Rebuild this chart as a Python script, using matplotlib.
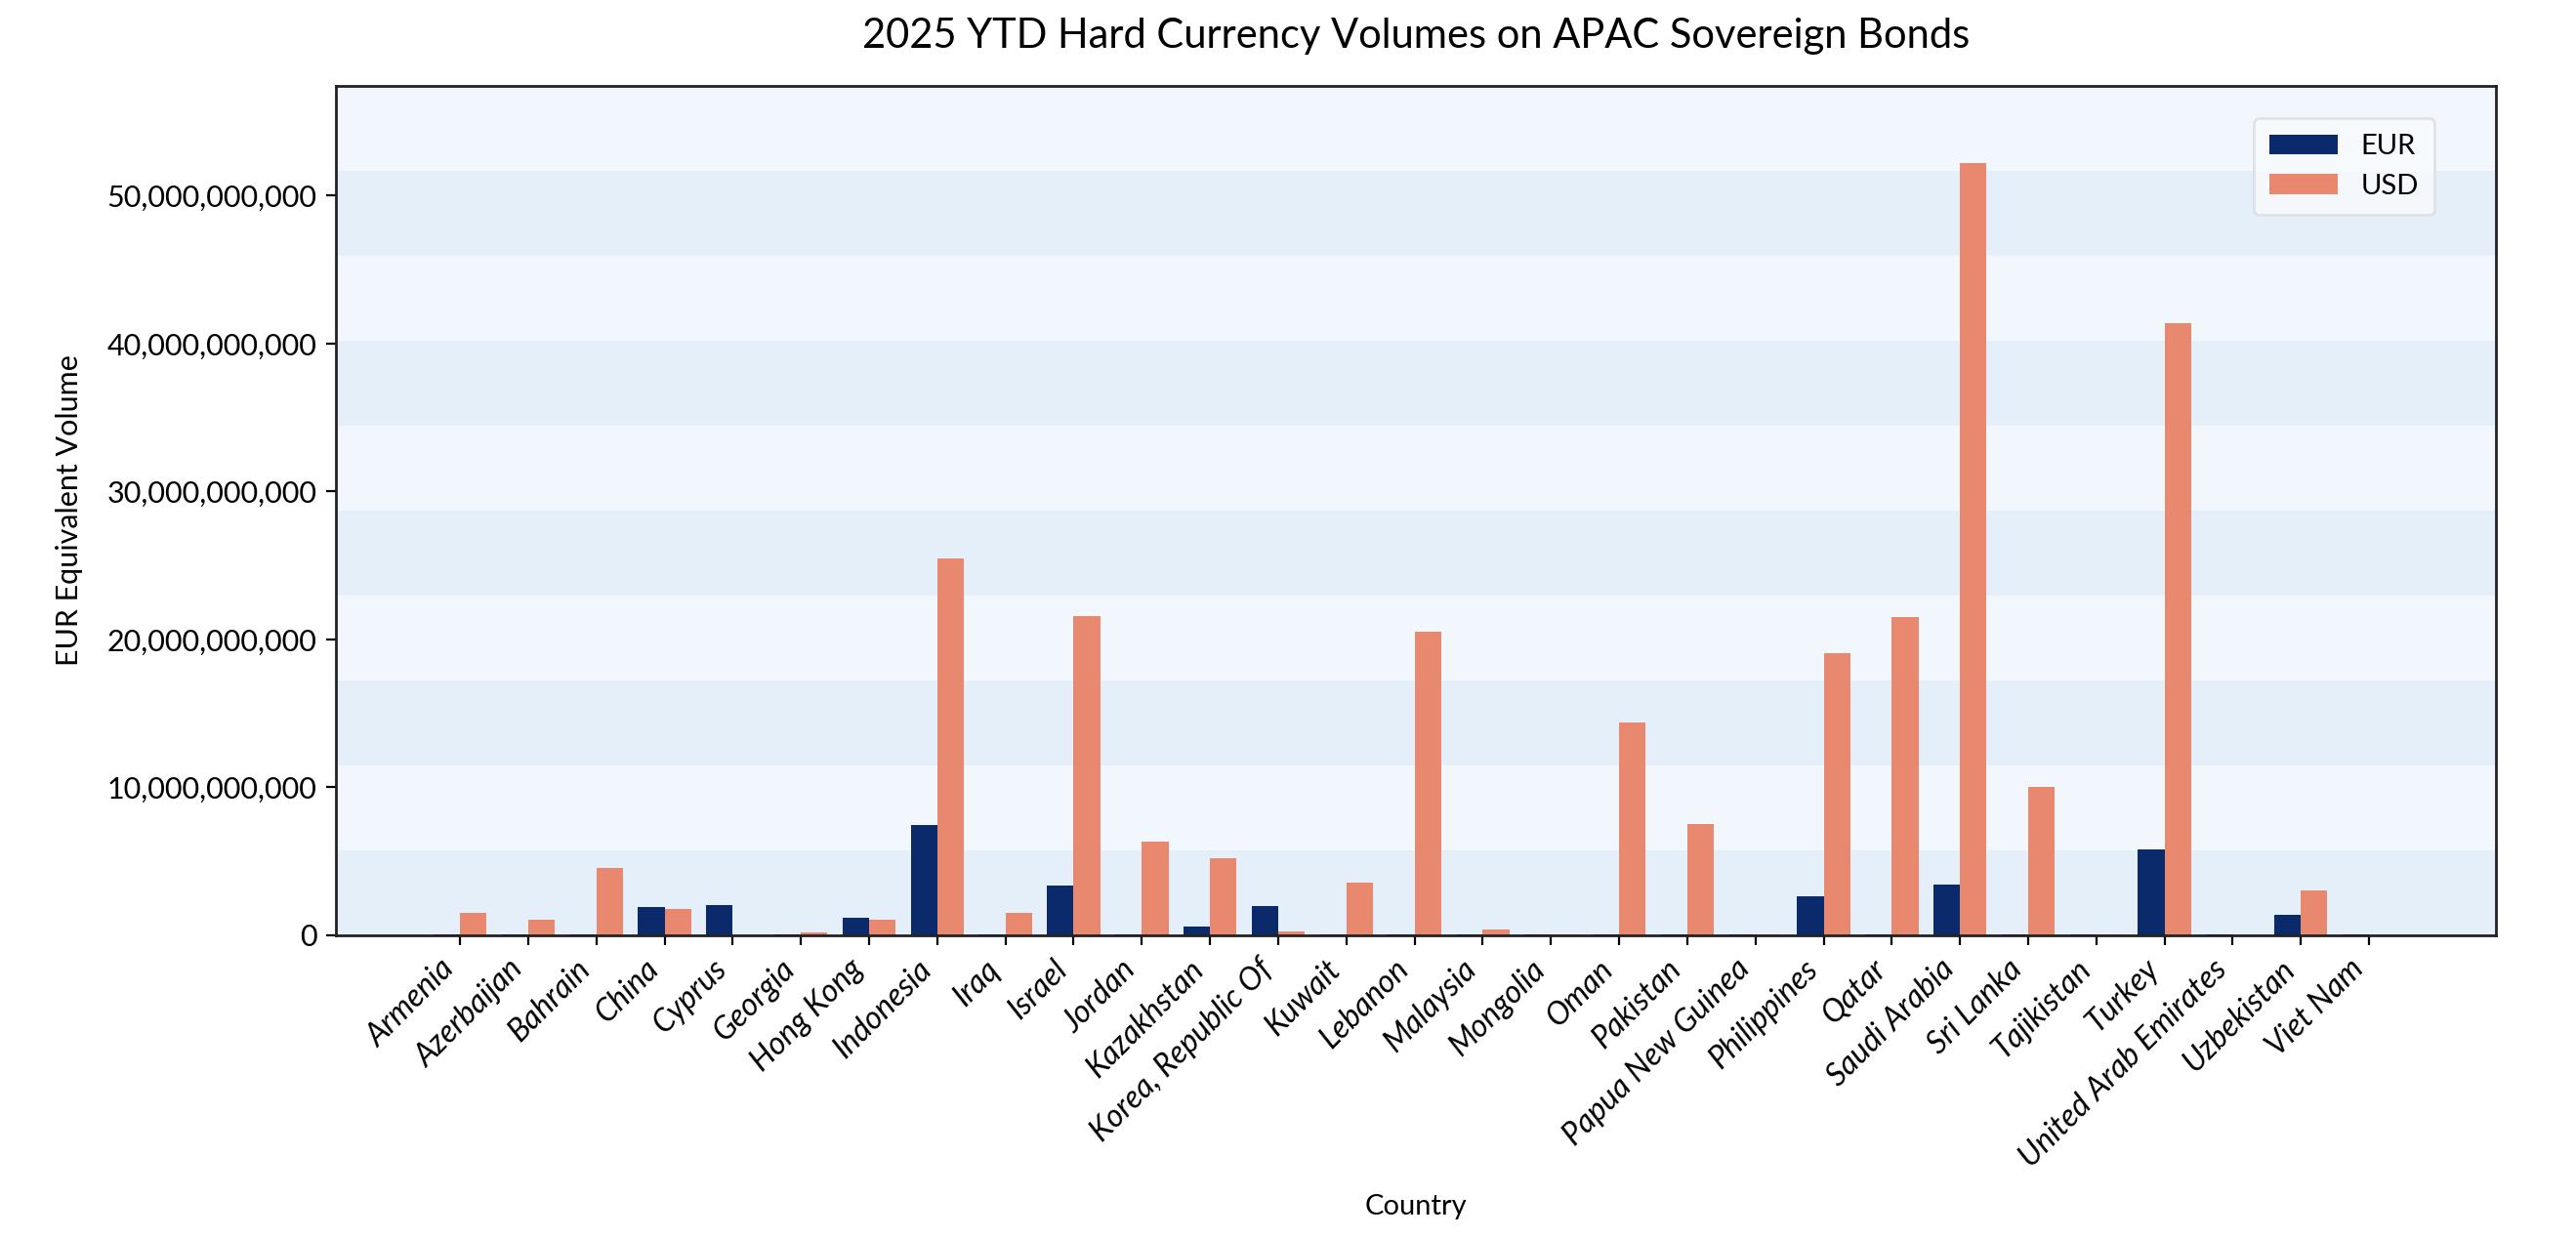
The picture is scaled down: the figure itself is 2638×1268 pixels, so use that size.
import matplotlib
matplotlib.use('Agg')
import matplotlib.pyplot as plt
import numpy as np
from matplotlib.ticker import FuncFormatter

plt.rcParams['font.family'] = ['Lato', 'DejaVu Sans']

countries = [
    'Armenia', 'Azerbaijan', 'Bahrain', 'China', 'Cyprus', 'Georgia',
    'Hong Kong', 'Indonesia', 'Iraq', 'Israel', 'Jordan', 'Kazakhstan',
    'Korea, Republic Of', 'Kuwait', 'Lebanon', 'Malaysia', 'Mongolia',
    'Oman', 'Pakistan', 'Papua New Guinea', 'Philippines', 'Qatar',
    'Saudi Arabia', 'Sri Lanka', 'Tajikistan', 'Turkey',
    'United Arab Emirates', 'Uzbekistan', 'Viet Nam',
]

# EUR equivalent volumes, in billions
eur = [0.08, 0.08, 0.08, 1.92, 2.05, 0.08,
       1.19, 7.46, 0.08, 3.37, 0.08, 0.60,
       1.98, 0.08, 0.08, 0.08, 0.08,
       0.08, 0.08, 0.08, 2.64, 0.08,
       3.43, 0.08, 0.08, 5.81,
       0.08, 1.39, 0.08]
usd = [1.52, 1.06, 4.56, 1.78, 0.0, 0.20,
       1.06, 25.5, 1.52, 21.6, 6.34, 5.20,
       0.26, 3.57, 20.5, 0.40, 0.05,
       14.4, 7.53, 0.05, 19.1, 21.5,
       52.2, 10.04, 0.05, 41.4,
       0.03, 3.04, 0.03]

eur_vals = np.array(eur) * 1e9
usd_vals = np.array(usd) * 1e9

eur_color = '#0b2a6b'
usd_color = '#e8886f'
band_dark = '#e5eff9'
band_light = '#f2f7fd'

fig = plt.figure(figsize=(13.19, 6.34), dpi=200)
ax = fig.add_axes([0.1304, 0.2445, 0.8385, 0.6861])

x = np.arange(len(countries))
w = 0.39
ax.bar(x - w / 2, eur_vals, width=w, color=eur_color, label='EUR', zorder=2)
ax.bar(x + w / 2, usd_vals, width=w, color=usd_color, label='USD', zorder=2)

ymax = max(usd_vals.max(), eur_vals.max()) * 1.1
ax.set_ylim(0, ymax)
ax.set_xlim(-1.82, len(countries) + 0.86)

# alternating background bands
step = ymax / 10
for i in range(10):
    ax.axhspan(i * step, (i + 1) * step, color=band_dark if i % 2 == 0 else band_light,
               lw=0, zorder=0)

ax.yaxis.set_major_formatter(FuncFormatter(lambda v, p: f'{int(v):,}'))
ax.set_xticks(x)
ax.set_xticklabels(countries, rotation=45, ha='right', style='italic', fontsize=11.5)
ax.tick_params(axis='y', labelsize=11)

for s in ax.spines.values():
    s.set_color('#222222')
    s.set_linewidth(1.0)

ax.set_title('2025 YTD Hard Currency Volumes on APAC Sovereign Bonds', fontsize=15, pad=14)
ax.set_xlabel('Country', fontsize=10.5, labelpad=8)
ax.set_ylabel('EUR Equivalent Volume', fontsize=11, labelpad=9)

leg = ax.legend(loc='upper right', bbox_to_anchor=(0.9715, 0.962), borderaxespad=0,
                fontsize=10.5, frameon=True, fancybox=True, handlelength=2.4,
                borderpad=0.55)
leg.get_frame().set_edgecolor('#dddddd')
leg.get_frame().set_facecolor('#f8fbfe')

fig.savefig('out.png', dpi=200)
